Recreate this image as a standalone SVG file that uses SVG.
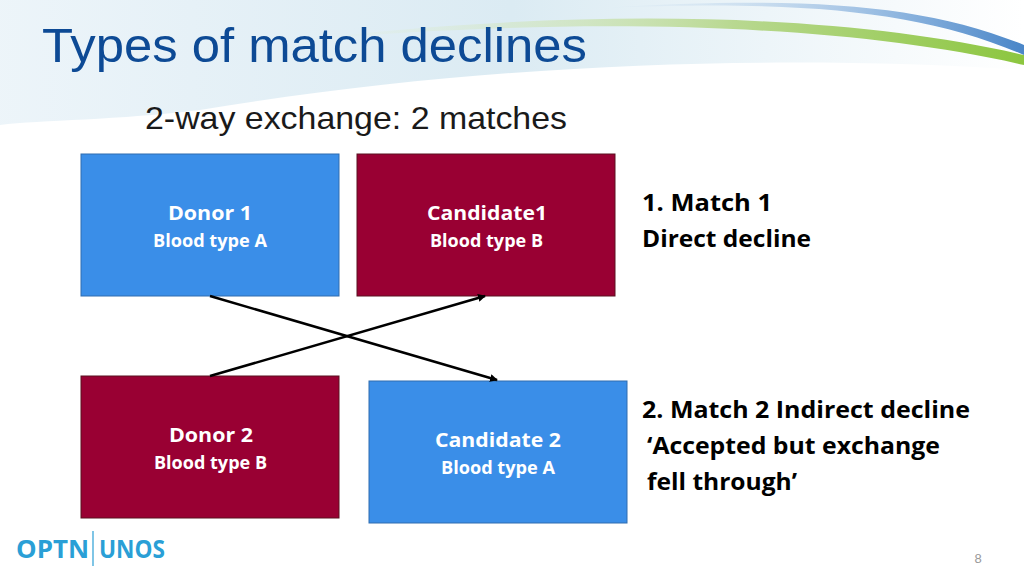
<svg xmlns="http://www.w3.org/2000/svg" width="1024" height="576" viewBox="0 0 1024 576">
<defs>
<style>
.blue{fill:#3a8ee8;stroke:#2f6db0;stroke-width:1}
.red{fill:#990033;stroke:#5a1020;stroke-width:1}
.t1{font-family:"Open Sans","Liberation Sans",sans-serif;font-weight:bold;fill:#fff;font-size:20px}
.t2{font-family:"Open Sans","Liberation Sans",sans-serif;font-weight:bold;fill:#fff;font-size:17px}
.side{font-family:"Open Sans","Liberation Sans",sans-serif;font-weight:bold;fill:#000;font-size:24px}
.conn{stroke:#000;stroke-width:2.5;fill:none;marker-end:url(#ah)}
</style>
<marker id="ah" markerWidth="8" markerHeight="8" refX="7" refY="4" orient="auto" markerUnits="userSpaceOnUse"><path d="M0,0 L8,4 L0,8 z" fill="#000"/></marker>
<linearGradient id="sw" x1="0" y1="0" x2="1" y2="0"><stop offset="0" stop-color="#e8f2f8"/><stop offset="0.5" stop-color="#d2e6f0"/><stop offset="1" stop-color="#ffffff"/></linearGradient>
<linearGradient id="gr" x1="0" y1="0" x2="1" y2="0"><stop offset="0" stop-color="#e6f0d8" stop-opacity="0"/><stop offset="0.6" stop-color="#b8d890"/><stop offset="1" stop-color="#8cc63f"/></linearGradient>
<linearGradient id="bl" x1="0" y1="0" x2="1" y2="0"><stop offset="0" stop-color="#c8dcee" stop-opacity="0"/><stop offset="0.7" stop-color="#8fb6df"/><stop offset="1" stop-color="#4a86c8"/></linearGradient>
</defs>
<rect width="1024" height="576" fill="#fff"/>
<path d="M0,0 L1024,0 L1024,70 C800,55 500,60 200,110 C120,120 40,120 0,125 Z" fill="url(#sw)" opacity="0.8"/>
<path d="M300,40 C600,15 850,25 1024,65 L1024,55 C850,15 600,5 300,40 Z" fill="url(#gr)"/>
<path d="M600,8 C800,0 920,10 1024,55 L1024,45 C920,3 800,-4 600,8 Z" fill="url(#bl)"/>
<text x="42" y="62" font-family="'Liberation Sans',Arial,sans-serif" font-size="48" fill="#0d4a95" textLength="545" lengthAdjust="spacingAndGlyphs">Types of match declines</text>
<text x="145" y="129" font-family="'Liberation Sans',Arial,sans-serif" font-size="32" fill="#1a1a1a" textLength="422" lengthAdjust="spacingAndGlyphs">2-way exchange: 2 matches</text>
<g id="donor1"><rect class="blue" x="81" y="154" width="258" height="142"/><text class="t1" x="168" y="220" textLength="84" lengthAdjust="spacingAndGlyphs">Donor 1</text><text class="t2" x="153" y="247" textLength="114" lengthAdjust="spacingAndGlyphs">Blood type A</text></g>
<g id="candidate1"><rect class="red" x="357" y="154" width="258" height="142"/><text class="t1" x="427" y="220" textLength="120" lengthAdjust="spacingAndGlyphs">Candidate1</text><text class="t2" x="430" y="247" textLength="113" lengthAdjust="spacingAndGlyphs">Blood type B</text></g>
<g id="donor2"><rect class="red" x="81" y="376" width="258" height="142"/><text class="t1" x="169" y="442" textLength="84" lengthAdjust="spacingAndGlyphs">Donor 2</text><text class="t2" x="154" y="469" textLength="113" lengthAdjust="spacingAndGlyphs">Blood type B</text></g>
<g id="candidate2"><rect class="blue" x="369" y="381" width="258" height="142"/><text class="t1" x="435" y="447" textLength="126" lengthAdjust="spacingAndGlyphs">Candidate 2</text><text class="t2" x="441" y="474" textLength="114" lengthAdjust="spacingAndGlyphs">Blood type A</text></g>
<g id="connectors">
<line class="conn" x1="210" y1="296" x2="497" y2="380"/>
<line class="conn" x1="210" y1="376" x2="485" y2="296"/>
</g>
<g id="label1"><text class="side" x="642" y="211" textLength="130" lengthAdjust="spacingAndGlyphs">1. Match 1</text><text class="side" x="642" y="247" textLength="169" lengthAdjust="spacingAndGlyphs">Direct decline</text></g>
<g id="label2"><text class="side" x="642" y="418" textLength="328" lengthAdjust="spacingAndGlyphs">2. Match 2 Indirect decline</text><text class="side" x="647" y="454" textLength="293" lengthAdjust="spacingAndGlyphs">‘Accepted but exchange</text><text class="side" x="647" y="490" textLength="150" lengthAdjust="spacingAndGlyphs">fell through’</text></g>
<g id="logo"><text x="16" y="558" font-family="'Open Sans','Liberation Sans',sans-serif" font-weight="bold" font-size="25" fill="#2a9fd6" textLength="73" lengthAdjust="spacingAndGlyphs">OPTN</text><line x1="93" y1="531" x2="93" y2="566" stroke="#2a9fd6" stroke-width="1.2"/><text x="99" y="558" font-family="'Open Sans','Liberation Sans',sans-serif" font-weight="bold" font-size="25" fill="#2a9fd6" textLength="66" lengthAdjust="spacingAndGlyphs">UNOS</text></g>
<text x="978" y="563" font-family="'Liberation Sans',Arial,sans-serif" font-size="13" fill="#999" text-anchor="middle">8</text>
</svg>
